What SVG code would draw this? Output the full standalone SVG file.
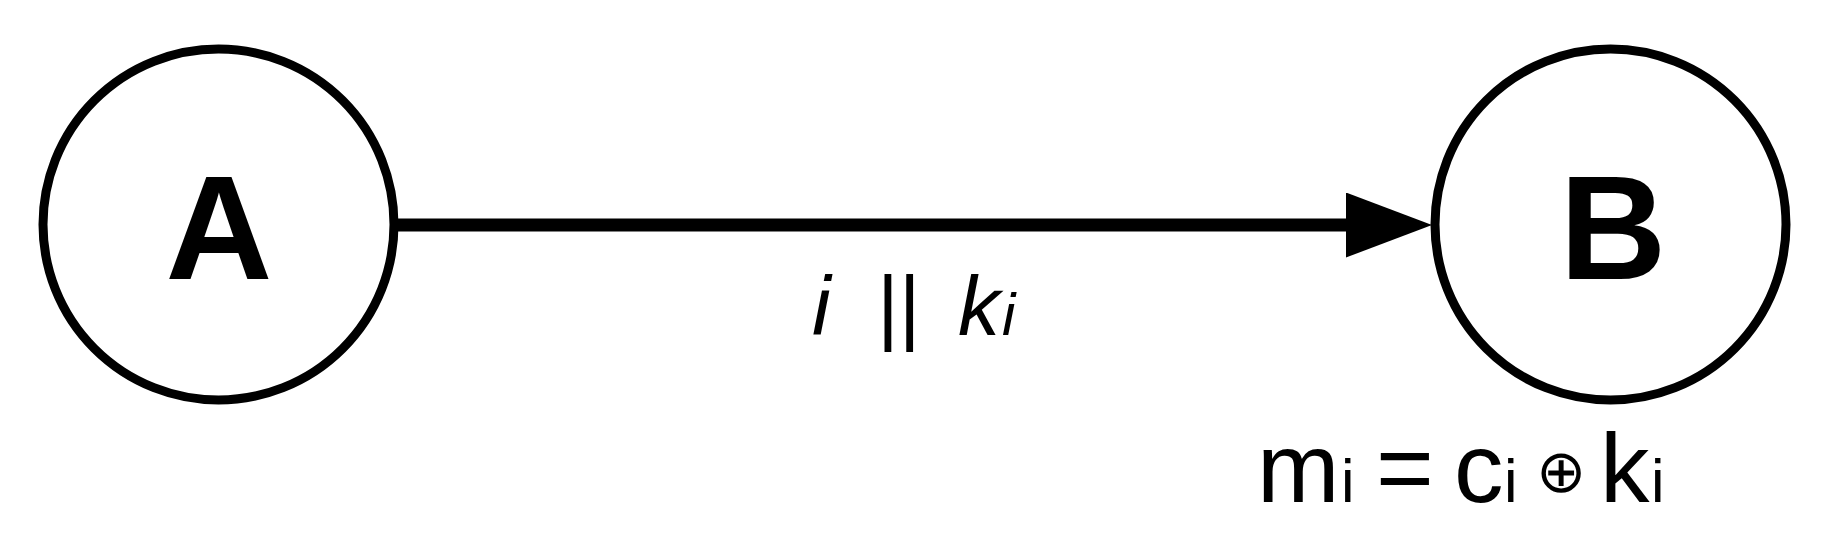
<svg xmlns="http://www.w3.org/2000/svg" width="1821" height="542" viewBox="0 0 1821 542">
  <style>
    .node { fill: #ffffff; stroke: #000000; stroke-width: 9; }
    .nlabel { font-family: "Liberation Sans", Arial, sans-serif; font-weight: bold; font-size: 148px; fill: #000000; text-anchor: middle; }
    .edge { stroke: #000000; stroke-width: 13; fill: none; }
    .elabel { font-family: "Liberation Sans", Arial, sans-serif; font-style: italic; font-size: 84px; fill: #000000; }
    .formula { font-family: "Liberation Sans", Arial, sans-serif; font-size: 99px; fill: #000000; }
    .sub { font-size: 61px; }
    .op { font-family: "DejaVu Sans", sans-serif; font-size: 60px; }
  </style>
  <defs>
    <marker id="arrow" markerUnits="userSpaceOnUse" markerWidth="86" markerHeight="65" refX="4" refY="32.5" orient="auto">
      <path d="M0,0 L86,32.5 L0,65 Z" fill="#000000"/>
    </marker>
  </defs>
  <rect width="1821" height="542" fill="#ffffff"/>
  <g id="connectors">
    <line class="edge" x1="398" y1="225" x2="1350" y2="225" marker-end="url(#arrow)"/>
    <text class="elabel" y="335"><tspan x="812">i</tspan><tspan x="877" font-style="normal">||</tspan><tspan x="958">k</tspan><tspan x="1002" font-size="60">i</tspan></text>
  </g>
  <g id="node-A">
    <circle class="node" cx="218.5" cy="224.5" r="175.5"/>
    <text class="nlabel" x="219" y="279">A</text>
  </g>
  <g id="node-B">
    <circle class="node" cx="1610.5" cy="224.5" r="175.5"/>
    <text class="nlabel" x="1613" y="279">B</text>
  </g>
  <g id="formula">
    <text class="formula" y="502"><tspan x="1257">m</tspan><tspan x="1341" class="sub">i</tspan><tspan x="1376">=</tspan><tspan x="1454">c</tspan><tspan x="1504" class="sub">i</tspan><tspan x="1536" y="492" class="op">⊕</tspan><tspan x="1600" y="502">k</tspan><tspan x="1651" class="sub">i</tspan></text>
  </g>
</svg>
